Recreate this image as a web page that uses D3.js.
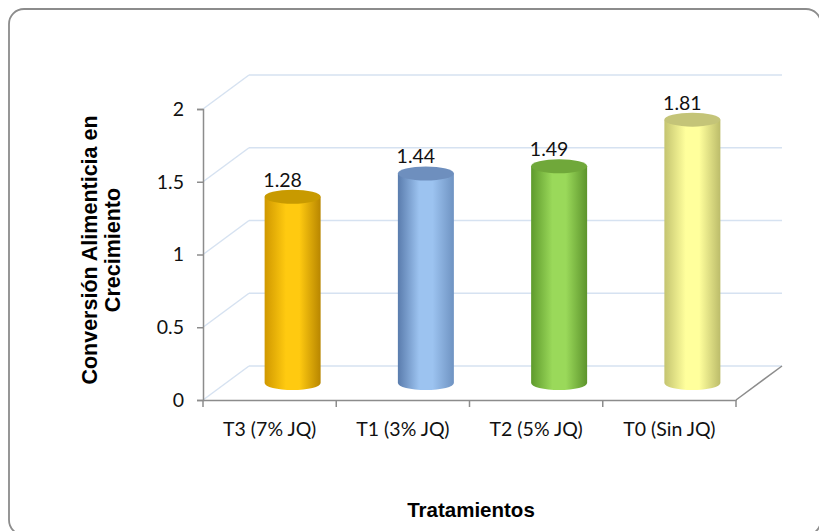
<!DOCTYPE html>
<html>
<head>
<meta charset="utf-8">
<script src="https://cdn.jsdelivr.net/npm/d3@7"></script>
<style>
  html, body { margin: 0; padding: 0; background: #ffffff; }
  svg { display: block; }
</style>
</head>
<body>
<svg id="chart" width="819" height="531"></svg>
<script>
// Feed conversion during growth, per treatment
const categories = ["T3 (7% JQ)", "T1 (3% JQ)", "T2 (5% JQ)", "T0 (Sin JQ)"];
const values = [1.28, 1.44, 1.49, 1.81];
const yTicks = [0, 0.5, 1, 1.5, 2];
const yTitleLines = ["Conversión Alimenticia en", "Crecimiento"];
const xTitle = "Tratamientos";

// Cylinder colours: [left edge, highlight, right edge, top cap]
const palette = [
  ["#d09800", "#ffca10", "#b88600", "#c89a00"],
  ["#5a7cad", "#9cc3f0", "#6f93c2", "#6e8fbe"],
  ["#5e9a2c", "#9ad95a", "#5d942c", "#70a83a"],
  ["#c4c470", "#ffff9c", "#bcbc6a", "#c4c478"]
];

const labelFont = "Lato, 'Open Sans', sans-serif";
const labelSize = 19.5;

const svg = d3.select("#chart");

// Chart frame
svg.append("rect")
  .attr("x", 9).attr("y", 9)
  .attr("width", 812).attr("height", 526)
  .attr("rx", 15).attr("ry", 15)
  .attr("fill", "#ffffff")
  .attr("stroke", "#8c8c8c")
  .attr("stroke-width", 1.8);

// 3D projection: depth offset of the back wall
const depth = { dx: 46, dy: -34 };

const x = d3.scaleBand().domain(categories).range([203, 736]);
const y = d3.scaleLinear().domain([0, 2]).range([400, 109]);

const gridColor = "#d6e2f1";
const axisColor = "#8c8c8c";

// Back wall gridlines and side wall diagonals
const grid = svg.append("g");
yTicks.forEach(v => {
  grid.append("line")
    .attr("x1", x.range()[0] + depth.dx).attr("y1", y(v) + depth.dy)
    .attr("x2", x.range()[1] + depth.dx).attr("y2", y(v) + depth.dy)
    .attr("stroke", gridColor).attr("stroke-width", 1.5);
  grid.append("line")
    .attr("x1", x.range()[0]).attr("y1", y(v))
    .attr("x2", x.range()[0] + depth.dx).attr("y2", y(v) + depth.dy)
    .attr("stroke", gridColor).attr("stroke-width", 1.5);
});

// Floor right edge
svg.append("line")
  .attr("x1", x.range()[1]).attr("y1", y(0))
  .attr("x2", x.range()[1] + depth.dx).attr("y2", y(0) + depth.dy)
  .attr("stroke", axisColor).attr("stroke-width", 1.5);

// Gradients for cylinder bodies
const defs = svg.append("defs");
palette.forEach((p, i) => {
  const g = defs.append("linearGradient")
    .attr("id", "cyl" + i)
    .attr("x1", "0%").attr("x2", "100%").attr("y1", "0%").attr("y2", "0%");
  g.append("stop").attr("offset", "0%").attr("stop-color", p[0]);
  g.append("stop").attr("offset", "38%").attr("stop-color", p[1]);
  g.append("stop").attr("offset", "62%").attr("stop-color", p[1]);
  g.append("stop").attr("offset", "100%").attr("stop-color", p[2]);
});

// Cylinders, centred at mid depth
const rx = 28, ry = 7;
const bars = svg.append("g");
categories.forEach((c, i) => {
  const cx = x(c) + x.bandwidth() / 2 + depth.dx / 2;
  const base = y(0) + depth.dy / 2;
  const top = y(values[i]) + depth.dy / 2;
  const d = `M${cx - rx},${top} L${cx - rx},${base} A${rx},${ry} 0 0 0 ${cx + rx},${base} L${cx + rx},${top} Z`;
  bars.append("path").attr("d", d).attr("fill", `url(#cyl${i})`);
  bars.append("ellipse")
    .attr("cx", cx).attr("cy", top)
    .attr("rx", rx).attr("ry", ry)
    .attr("fill", palette[i][3]);
  bars.append("text")
    .attr("x", cx - 10).attr("y", top - ry - 3)
    .attr("text-anchor", "middle")
    .attr("font-family", labelFont)
    .attr("font-size", labelSize)
    .attr("fill", "#111")
    .text(values[i].toFixed(2));
});

// Y axis
const yAxis = svg.append("g")
  .attr("transform", `translate(${x.range()[0]},0)`)
  .call(d3.axisLeft(y).tickValues(yTicks).tickSize(6).tickPadding(13).tickFormat(d => String(d)));
yAxis.select(".domain").attr("stroke", axisColor).attr("stroke-width", 1.5);
yAxis.selectAll(".tick line").attr("stroke", axisColor).attr("stroke-width", 1.5);
yAxis.selectAll(".tick text")
  .attr("font-family", labelFont)
  .attr("font-size", labelSize)
  .attr("fill", "#111");

// X axis: labels at band centres, ticks at band boundaries
const xAxis = svg.append("g")
  .attr("transform", `translate(0,${y(0)})`)
  .call(d3.axisBottom(x).tickSize(0).tickPadding(22));
xAxis.select(".domain").attr("stroke", axisColor).attr("stroke-width", 1.5);
xAxis.selectAll(".tick text")
  .attr("font-family", labelFont)
  .attr("font-size", labelSize)
  .attr("fill", "#111");
const bounds = categories.map(c => x(c)).concat([x.range()[1]]);
xAxis.selectAll("line.bound").data(bounds).enter().append("line")
  .attr("class", "bound")
  .attr("x1", d => d).attr("x2", d => d)
  .attr("y1", 0).attr("y2", 7)
  .attr("stroke", axisColor).attr("stroke-width", 1.5);

// Axis titles
const yTitle = svg.append("text")
  .attr("transform", "translate(97,250) rotate(-90)")
  .attr("text-anchor", "middle")
  .attr("font-family", "'Liberation Sans', Arial, sans-serif")
  .attr("font-weight", "bold")
  .attr("font-size", 21.5)
  .attr("fill", "#000");
yTitleLines.forEach((t, i) => {
  yTitle.append("tspan").attr("x", 0).attr("y", i * 23).text(t);
});

svg.append("text")
  .attr("x", 471).attr("y", 517)
  .attr("text-anchor", "middle")
  .attr("font-family", "'Liberation Sans', Arial, sans-serif")
  .attr("font-weight", "bold")
  .attr("font-size", 20.5)
  .attr("fill", "#000")
  .text(xTitle);
</script>
</body>
</html>
